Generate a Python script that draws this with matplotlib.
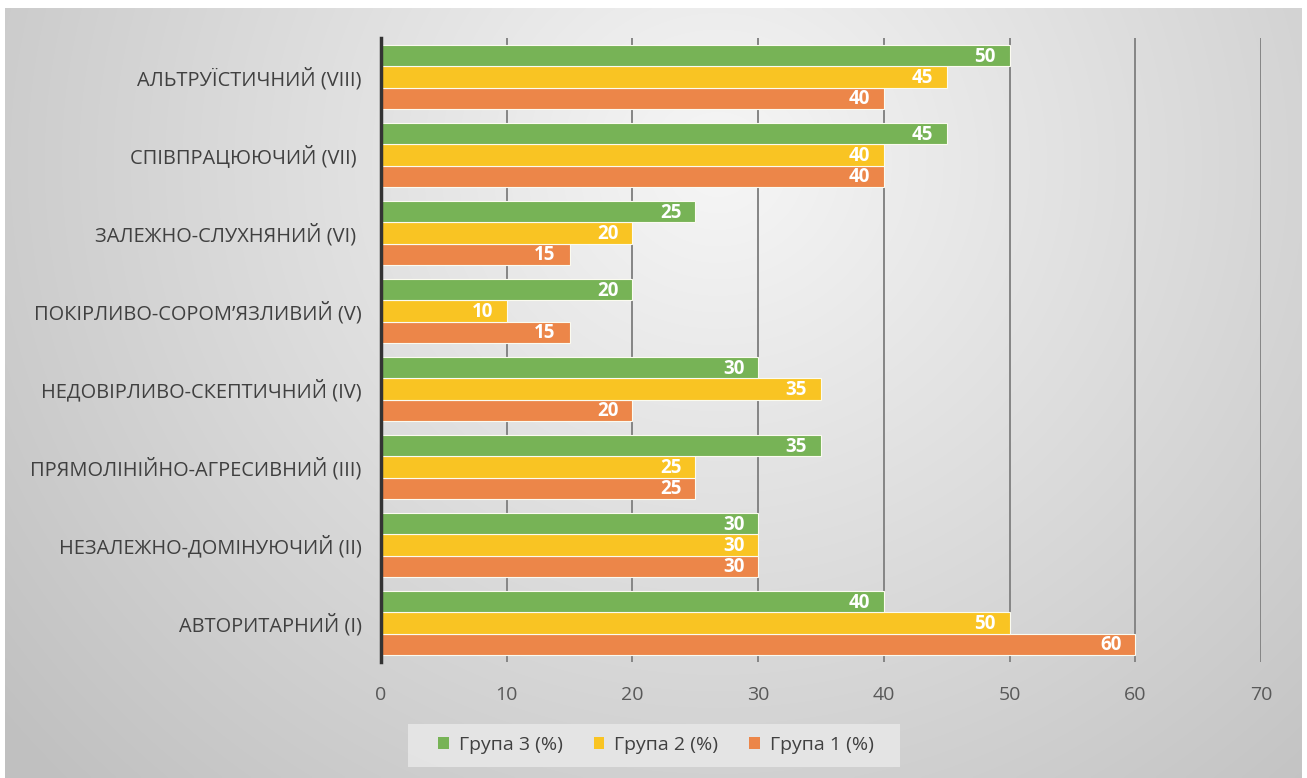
import numpy as np
import matplotlib
matplotlib.use("Agg")
import matplotlib.pyplot as plt
from matplotlib.patches import Patch, Rectangle

categories = ["АВТОРИТАРНИЙ (I)", "НЕЗАЛЕЖНО-ДОМІНУЮЧИЙ (II)", "ПРЯМОЛІНІЙНО-АГРЕСИВНИЙ (III)",
              "НЕДОВІРЛИВО-СКЕПТИЧНИЙ (IV)", "ПОКІРЛИВО-СОРОМ’ЯЗЛИВИЙ (V)", "ЗАЛЕЖНО-СЛУХНЯНИЙ (VI) ",
              "СПІВПРАЦЮЮЧИЙ (VII) ", "АЛЬТРУЇСТИЧНИЙ (VIII)"]
group1 = [60, 30, 25, 20, 15, 15, 40, 40]
group2 = [50, 30, 25, 35, 10, 20, 40, 45]
group3 = [40, 30, 35, 30, 20, 25, 45, 50]
series_names = ["Група 1 (%)", "Група 2 (%)", "Група 3 (%)"]
xticks = [0, 10, 20, 30, 40, 50, 60, 70]

colors = ["#ec8649", "#f9c423", "#77b356"]
plt.rcParams['font.family'] = ['Open Sans', 'DejaVu Sans']

W, H = 1307, 778
fig = plt.figure(figsize=(W / 100, H / 100), dpi=100)
fig.patch.set_facecolor("white")

# background gradient
bg = fig.add_axes([5 / W, 0, (1302 - 5) / W, (H - 8) / H])
ny, nx = 300, 500
yy, xx = np.mgrid[0:1:ny * 1j, 0:1:nx * 1j]
r = np.sqrt(((xx - 0.55) / 0.62) ** 2 + ((yy - 0.2) / 1.0) ** 2)
v = 0.965 - 0.21 * np.clip(r, 0, 1.15) / 1.15
img = np.dstack([v, v, v])
bg.imshow(img, aspect="auto", extent=[0, 1, 1, 0], interpolation="bilinear")
bg.set_axis_off()

ax = fig.add_axes([381 / W, 1 - 662 / H, (1261 - 381) / W, (662 - 38) / H])
ax.patch.set_alpha(0)

y = np.arange(len(categories))
bh = 0.272
datas = [group1, group2, group3]
offsets = [-bh, 0, bh]
for d, c, off, name in zip(datas, colors, offsets, series_names):
    bars = ax.barh(y + off, d, height=bh, color=c, edgecolor="#fbfbf0", linewidth=0.8, label=name, zorder=3)
    for b, val in zip(bars, d):
        ax.text(b.get_width() - 1.1, b.get_y() + b.get_height() / 2 - 0.01, f"{val}",
                ha="right", va="center", color="white", fontsize=13.5, fontweight="bold", zorder=4)

ax.set_xlim(0, 70)
ax.set_ylim(-0.5, len(categories) - 0.5)
ax.set_xticks(xticks)
ax.set_yticks(y)
ax.set_yticklabels(categories)
ax.tick_params(axis="y", length=0, pad=14, labelsize=14.4, labelcolor="#404040")
ax.tick_params(axis="x", length=0, pad=17, labelsize=14, labelcolor="#595959")
for s in ["top", "right", "bottom"]:
    ax.spines[s].set_visible(False)
ax.spines["left"].set_color("#333333")
ax.spines["left"].set_linewidth(2.5)
ax.spines["left"].set_zorder(5)
ax.grid(axis="x", color="#858585", linewidth=1.4, zorder=1)
ax.grid(axis="y", visible=False)
ax.set_axisbelow(True)

# legend background box
fig.patches.append(Rectangle((408 / W, 1 - 767 / H), (900 - 408) / W, (767 - 724) / H,
                             transform=fig.transFigure, facecolor="#e8e8e8", alpha=0.85,
                             edgecolor="none", zorder=1))

handles = [Patch(facecolor=colors[2], label=series_names[2]),
           Patch(facecolor=colors[1], label=series_names[1]),
           Patch(facecolor=colors[0], label=series_names[0])]
leg = fig.legend(handles=handles, loc="center", bbox_to_anchor=(656 / W, 1 - 745 / H), ncol=3,
                 frameon=False, fontsize=14, handlelength=0.55, handleheight=0.55, handletextpad=0.5,
                 columnspacing=1.6, borderpad=0.3)
for t in leg.get_texts():
    t.set_color("#404040")

fig.savefig("out.png", dpi=100)
